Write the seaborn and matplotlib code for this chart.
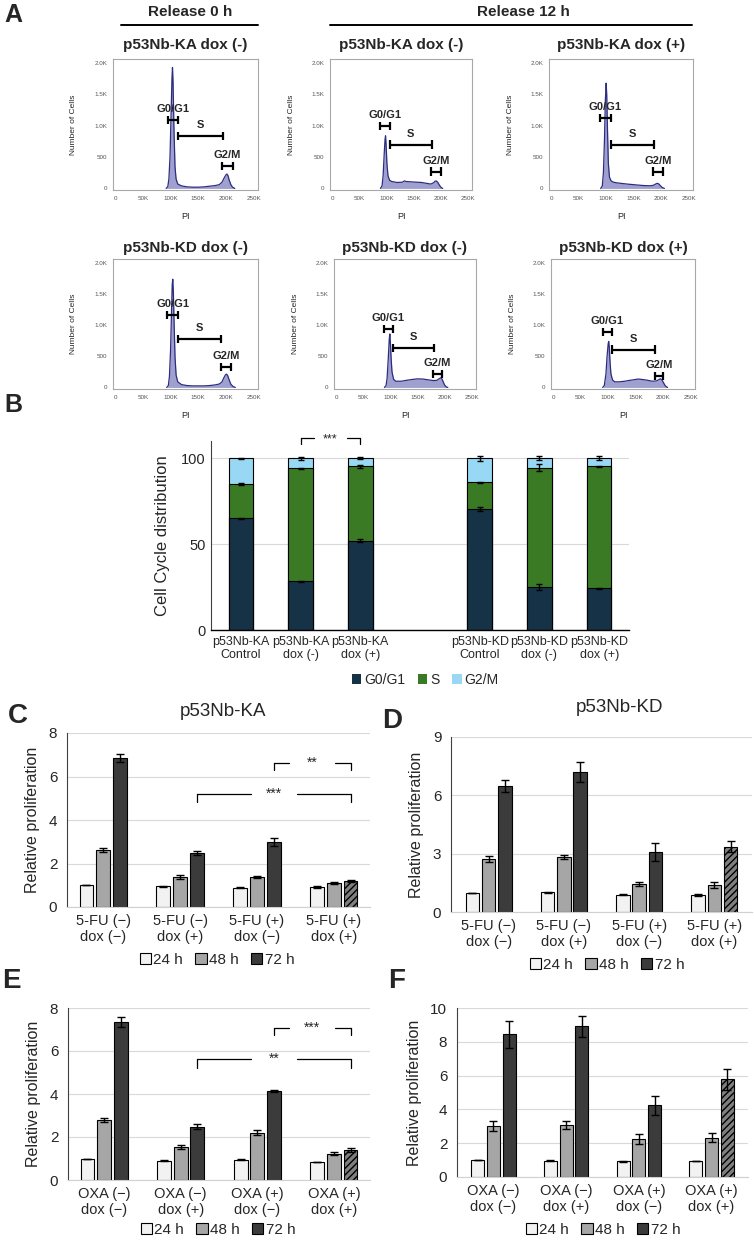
import numpy as np
import pandas as pd
import matplotlib
matplotlib.use('Agg')
import matplotlib.pyplot as plt
from matplotlib.patches import Patch
from matplotlib.lines import Line2D
from matplotlib.ticker import MultipleLocator, FixedLocator
import matplotlib.font_manager as fm
import seaborn as sns

sns.set_style('white')
plt.rcParams['font.family'] = ['Liberation Sans', 'DejaVu Sans']
plt.rcParams['hatch.linewidth'] = 1.0
_names = {f.name for f in fm.fontManager.ttflist}
NARROW = 'Liberation Sans Narrow' if 'Liberation Sans Narrow' in _names else 'Liberation Sans'

W, H = 754, 1240

# ---------------- Panel A data (PI in K, number of cells) ----------------
hist_titles = ['p53Nb-KA dox (-)', 'p53Nb-KA dox (-)', 'p53Nb-KA dox (+)',
               'p53Nb-KD dox (-)', 'p53Nb-KD dox (-)', 'p53Nb-KD dox (+)']
h1_x = [92, 95, 97, 99, 101, 102.5, 103.5, 104.5, 106, 108, 110, 113, 120, 130, 140, 150, 160, 170, 180, 188, 193, 197, 200, 202, 204, 206, 209, 212, 216]
h1_y = [0, 30, 150, 500, 1200, 1750, 1930, 1700, 1000, 350, 150, 70, 40, 25, 20, 20, 25, 35, 45, 60, 100, 170, 215, 230, 200, 130, 60, 20, 0]
h2_x = [89, 92, 94, 96, 97.5, 98.5, 99.5, 101, 103, 106, 110, 120, 130, 133, 137, 145, 155, 165, 175, 182, 187, 190, 192, 195, 198, 201, 204]
h2_y = [0, 40, 200, 550, 780, 840, 700, 400, 200, 130, 110, 95, 100, 120, 110, 105, 100, 95, 80, 70, 90, 115, 120, 95, 50, 15, 0]
h3_x = [90, 93, 95, 97, 98.5, 100, 101, 102.5, 104, 106, 109, 113, 120, 130, 140, 150, 160, 170, 180, 186, 190, 193, 196, 199, 202, 206]
h3_y = [0, 40, 250, 800, 1400, 1680, 1500, 900, 400, 180, 120, 100, 88, 78, 68, 60, 52, 45, 42, 50, 70, 82, 70, 40, 15, 0]
h4_x = [93, 96, 98, 100, 102, 103, 104, 105, 106.5, 108, 110, 113, 120, 130, 140, 150, 160, 170, 180, 188, 193, 196, 199, 201, 203, 206, 209, 213, 217]
h4_y = [0, 30, 180, 600, 1300, 1650, 1740, 1550, 1000, 500, 200, 90, 45, 30, 25, 25, 25, 30, 40, 55, 90, 150, 200, 215, 195, 120, 50, 15, 0]
h5_x = [89, 92, 94, 96, 98, 99, 100, 101.5, 103, 106, 110, 120, 130, 140, 150, 160, 170, 180, 186, 190, 193, 195, 197, 200, 203, 206]
h5_y = [0, 30, 150, 450, 780, 860, 720, 450, 250, 130, 100, 100, 115, 128, 138, 135, 122, 110, 115, 140, 155, 140, 100, 40, 10, 0]
h6_x = [90, 93, 96, 98, 100, 101, 102, 103.5, 105, 108, 112, 120, 130, 140, 150, 155, 160, 170, 180, 188, 192, 195, 198, 201, 204, 208]
h6_y = [0, 30, 220, 500, 700, 740, 650, 400, 220, 120, 90, 90, 100, 115, 128, 135, 130, 118, 100, 105, 125, 140, 120, 70, 25, 0]
hist_x = [h1_x, h2_x, h3_x, h4_x, h5_x, h6_x]
hist_y = [h1_y, h2_y, h3_y, h4_y, h5_y, h6_y]

gate_names = ['G0/G1', 'S', 'G2/M']
gate_lo = [[95, 113, 193], [88, 106, 182], [89, 108, 185], [94, 113, 191], [88, 105, 178], [90, 107, 185]]
gate_hi = [[113, 194, 212], [106, 184, 201], [108, 187, 204], [114, 192, 210], [104, 181, 195], [107, 185, 199]]
gate_y = [[1090, 830, 360], [1000, 700, 270], [1120, 700, 270], [1160, 780, 330], [940, 630, 220], [890, 610, 180]]

pi_ticks = [0, 50, 100, 150, 200, 250]
pi_labels = ['0', '50K', '100K', '150K', '200K', '250K']
cell_ticks = [0, 500, 1000, 1500, 2000]
cell_labels = ['0', '500', '1.0K', '1.5K', '2.0K']

# ---------------- Panel B data ----------------
b_samples = ['p53Nb-KA\nControl', 'p53Nb-KA\ndox (-)', 'p53Nb-KA\ndox (+)',
             'p53Nb-KD\nControl', 'p53Nb-KD\ndox (-)', 'p53Nb-KD\ndox (+)']
b_g0g1 = [65.0, 28.3, 52.0, 70.5, 25.0, 24.3]
b_s = [20.0, 65.7, 43.3, 15.5, 69.5, 70.9]
b_g2m = [15.0, 6.0, 4.7, 14.0, 5.5, 4.8]
b_err_g0g1 = [0.4, 0.4, 1.0, 1.0, 2.0, 0.4]
b_err_s = [0.8, 0.4, 1.0, 0.3, 2.0, 0.5]
b_err_g2m = [0.3, 0.8, 0.4, 1.5, 1.3, 1.0]
b_phases = ['G0/G1', 'S', 'G2/M']

# ---------------- Panels C-F data ----------------
times = ['24 h', '48 h', '72 h']
fu_groups = ['5-FU (\u2212)\ndox (\u2212)', '5-FU (\u2212)\ndox (+)', '5-FU (+)\ndox (\u2212)', '5-FU (+)\ndox (+)']
oxa_groups = ['OXA (\u2212)\ndox (\u2212)', 'OXA (\u2212)\ndox (+)', 'OXA (+)\ndox (\u2212)', 'OXA (+)\ndox (+)']

c_24 = [1.00, 0.95, 0.89, 0.92]; c_24e = [0.0, 0.03, 0.02, 0.03]
c_48 = [2.62, 1.38, 1.38, 1.10]; c_48e = [0.10, 0.10, 0.03, 0.05]
c_72 = [6.85, 2.49, 2.97, 1.20]; c_72e = [0.20, 0.08, 0.18, 0.03]

d_24 = [1.00, 1.02, 0.89, 0.89]; d_24e = [0.0, 0.02, 0.02, 0.05]
d_48 = [2.74, 2.81, 1.44, 1.37]; d_48e = [0.15, 0.10, 0.12, 0.15]
d_72 = [6.47, 7.20, 3.09, 3.35]; d_72e = [0.32, 0.50, 0.48, 0.28]

e_24 = [1.00, 0.90, 0.94, 0.84]; e_24e = [0.0, 0.03, 0.02, 0.02]
e_48 = [2.79, 1.52, 2.20, 1.22]; e_48e = [0.10, 0.10, 0.13, 0.07]
e_72 = [7.35, 2.48, 4.13, 1.40]; e_72e = [0.22, 0.13, 0.04, 0.08]

f_24 = [1.00, 0.97, 0.92, 0.95]; f_24e = [0.0, 0.02, 0.01, 0.01]
f_48 = [3.02, 3.08, 2.23, 2.33]; f_48e = [0.30, 0.22, 0.30, 0.27]
f_72 = [8.44, 8.93, 4.24, 5.78]; f_72e = [0.80, 0.62, 0.58, 0.62]

# ---------------- styling ----------------
HIST_FILL = '#a0a0d0'
HIST_LINE = '#2d2d80'
C_G0 = '#163246'
C_S = '#3a7a24'
C_G2 = '#98d8f4'
T_COLORS = ['#f2f2f2', '#a6a6a6', '#3b3b3b']
HATCH_FACE = '#7f7f7f'

fig = plt.figure(figsize=(W / 100, H / 100), dpi=100)


def rect(l, t, r, b):
    return [l / W, 1 - b / H, (r - l) / W, (b - t) / H]


def fx(x):
    return x / W


def fy(y):
    return 1 - y / H


# ================= Panel A =================
fig.text(fx(4), fy(3), 'A', fontsize=18, fontweight='bold', va='top', ha='left')
fig.text(fx(190), fy(12), 'Release 0 h', fontsize=11, fontweight='bold', ha='center', va='center')
fig.add_artist(Line2D([fx(121), fx(258)], [fy(25), fy(25)], color='black', lw=1.4, transform=fig.transFigure))
fig.text(fx(523), fy(12), 'Release 12 h', fontsize=11, fontweight='bold', ha='center', va='center')
fig.add_artist(Line2D([fx(330), fx(692)], [fy(25), fy(25)], color='black', lw=1.4, transform=fig.transFigure))

hist_rects = [(113, 59, 258, 190), (330, 59, 472, 190), (549, 59, 693, 190),
              (113, 259, 258, 389), (334, 259, 476, 389), (551, 259, 695, 389)]
for i in range(6):
    ax = fig.add_axes(rect(*hist_rects[i]))
    hx, hy = hist_x[i], hist_y[i]
    ax.fill_between(hx, hy, 0, color=HIST_FILL, lw=0)
    sns.lineplot(x=hx, y=hy, ax=ax, color=HIST_LINE, lw=0.9)
    ax.set_xlim(-4, 258)
    ax.set_ylim(-25, 2065)
    ax.xaxis.set_major_locator(FixedLocator(pi_ticks))
    ax.set_xticklabels(pi_labels)
    ax.xaxis.set_minor_locator(MultipleLocator(10))
    ax.yaxis.set_major_locator(FixedLocator(cell_ticks))
    ax.set_yticklabels(cell_labels)
    ax.yaxis.set_minor_locator(MultipleLocator(100))
    ax.tick_params(which='major', length=2.5, width=0.6, color='#808080',
                   labelsize=4.5, labelcolor='#555555', pad=1.5)
    ax.tick_params(which='minor', length=1.5, width=0.5, color='#808080')
    for sp in ax.spines.values():
        sp.set_visible(True)
        sp.set_color('#a8a8a8')
        sp.set_linewidth(0.8)
    ax.set_ylabel('Number of Cells', fontsize=6)
    ax.yaxis.set_label_coords(-0.245, 0.5)
    ax.set_xlabel('PI', fontsize=6.5)
    ax.xaxis.set_label_coords(0.5, -0.17)
    ax.text(0.5, 1.105 if i < 3 else 1.085, hist_titles[i], transform=ax.transAxes,
            fontsize=11, fontweight='bold', ha='center', va='center')
    for g in range(3):
        lo, hi, gy = gate_lo[i][g], gate_hi[i][g], gate_y[i][g]
        ax.plot([lo, hi], [gy, gy], color='black', lw=1.6, solid_capstyle='butt')
        ax.plot([lo, lo], [gy - 65, gy + 65], color='black', lw=1.6, solid_capstyle='butt')
        ax.plot([hi, hi], [gy - 65, gy + 65], color='black', lw=1.6, solid_capstyle='butt')
        ax.text((lo + hi) / 2, gy + 95, gate_names[g], fontsize=8, fontweight='bold',
                ha='center', va='bottom')

# ================= Panel B =================
fig.text(fx(4), fy(393), 'B', fontsize=18, fontweight='bold', va='top', ha='left')
axb = fig.add_axes(rect(211, 441, 629, 630))
order = b_samples[:3] + [' '] + b_samples[3:]
cum_s = [a + b for a, b in zip(b_g0g1, b_s)]
cum_t = [a + b + c for a, b, c in zip(b_g0g1, b_s, b_g2m)]
for vals, col in [(cum_t, C_G2), (cum_s, C_S), (b_g0g1, C_G0)]:
    sns.barplot(x=b_samples, y=vals, order=order, color=col, saturation=1, width=0.41,
                edgecolor='black', linewidth=0.8, errorbar=None, ax=axb)
for cont, vals, errs in zip(axb.containers, [cum_t, cum_s, b_g0g1], [b_err_g2m, b_err_s, b_err_g0g1]):
    xs = [p.get_x() + p.get_width() / 2 for p in cont.patches]
    axb.errorbar(xs, vals, yerr=errs, fmt='none', ecolor='black', elinewidth=1.0,
                 capsize=2, capthick=1.0, zorder=5)
axb.set_ylim(0, 110)
axb.set_xlim(-0.5, 6.5)
axb.set_yticks([0, 50, 100])
axb.yaxis.grid(True, color='#d9d9d9', lw=0.8)
axb.set_axisbelow(True)
for s in ['top', 'right']:
    axb.spines[s].set_visible(False)
axb.spines['left'].set_color('#404040')
axb.spines['left'].set_linewidth(0.8)
axb.spines['bottom'].set_color('black')
axb.spines['bottom'].set_linewidth(1.0)
axb.tick_params(axis='y', length=0, labelsize=10.5, pad=4)
axb.tick_params(axis='x', which='major', length=0, pad=4)
axb.set_xticks([0.5, 1.5, 2.5, 3.5, 4.5, 5.5], minor=True)
axb.tick_params(axis='x', which='minor', length=4, width=0.8, color='black', direction='out')
for lab in axb.get_xticklabels():
    lab.set_fontsize(9)
    lab.set_fontfamily(NARROW)
for lab in axb.get_yticklabels():
    lab.set_fontfamily(NARROW)
axb.set_xlabel('')
axb.set_ylabel('Cell Cycle distribution', fontsize=12, labelpad=8)
# significance bracket
bx = [p.get_x() + p.get_width() / 2 for p in axb.containers[0].patches]
x1, x2 = bx[1], bx[2]
xm = (x1 + x2) / 2
for seg in ([x1, xm - 0.27], [xm + 0.27, x2]):
    axb.plot(seg, [111.5, 111.5], color='black', lw=0.9, clip_on=False)
axb.plot([x1, x1], [111.5, 108], color='black', lw=0.9, clip_on=False)
axb.plot([x2, x2], [111.5, 108], color='black', lw=0.9, clip_on=False)
axb.text(xm, 110.8, '***', ha='center', va='center', fontsize=9, clip_on=False)
fig.legend(handles=[Patch(facecolor=c, edgecolor='none', label=l) for c, l in zip([C_G0, C_S, C_G2], b_phases)],
           loc='center', bbox_to_anchor=(fx(425), fy(680)), ncol=3, frameon=False,
           handlelength=0.7, handleheight=0.7, handletextpad=0.2, columnspacing=0.9,
           prop={'family': NARROW, 'size': 10})


# ================= Panels C-F =================
def prolif(axr, groups, vals, errs, ylim, yticks, xlim, legend_xy, title=None, title_xy=None, brackets=()):
    ax = fig.add_axes(rect(*axr))
    df = pd.DataFrame({'group': groups * 3,
                       'time': [t for t in times for _ in groups],
                       'value': vals[0] + vals[1] + vals[2]})
    sns.barplot(data=df, x='group', y='value', hue='time', order=groups, hue_order=times,
                palette=T_COLORS, saturation=1, width=0.65, gap=0.17, edgecolor='black',
                linewidth=0.8, errorbar=None, legend=False, ax=ax)
    centers = []
    for cont, v, e in zip(ax.containers, vals, errs):
        xs = [p.get_x() + p.get_width() / 2 for p in cont.patches]
        centers.append(xs)
        ax.errorbar(xs, v, yerr=e, fmt='none', ecolor='black', elinewidth=1.0,
                    capsize=3, capthick=1.0, zorder=5)
    last = ax.containers[2].patches[-1]
    last.set_facecolor(HATCH_FACE)
    last.set_hatch('/////')
    ax.set_ylim(*ylim)
    ax.set_xlim(*xlim)
    ax.set_yticks(yticks)
    ax.yaxis.grid(True, color='#d9d9d9', lw=0.8)
    ax.set_axisbelow(True)
    for s in ['top', 'right']:
        ax.spines[s].set_visible(False)
    ax.spines['left'].set_color('#404040')
    ax.spines['left'].set_linewidth(0.8)
    ax.spines['bottom'].set_color('#d0d0d0')
    ax.spines['bottom'].set_linewidth(0.8)
    ax.tick_params(axis='y', length=4, width=0.8, color='#404040', labelsize=11, pad=3)
    ax.tick_params(axis='x', length=0, labelsize=10.5, pad=5)
    ax.set_xlabel('')
    ax.set_ylabel('Relative proliferation', fontsize=11.5, labelpad=6)
    if title:
        fig.text(fx(title_xy[0]), fy(title_xy[1]), title, fontsize=13.5, ha='center', va='center')
    for (ga, gb, yl, yd, txt) in brackets:
        x1, x2 = centers[2][ga], centers[2][gb]
        xm = (x1 + x2) / 2
        for seg in ([x1, xm - 0.3], [xm + 0.3, x2]):
            ax.plot(seg, [yl, yl], color='black', lw=0.9)
        ax.plot([x1, x1], [yl, yd], color='black', lw=0.9)
        ax.plot([x2, x2], [yl, yd], color='black', lw=0.9)
        ax.text(xm, yl, txt, ha='center', va='center', fontsize=10)
    fig.legend(handles=[Patch(facecolor=c, edgecolor='black', lw=0.8, label=t) for c, t in zip(T_COLORS, times)],
               loc='center', bbox_to_anchor=(fx(legend_xy[0]), fy(legend_xy[1])), ncol=3, frameon=False,
               fontsize=11, handlelength=0.75, handleheight=0.75, handletextpad=0.15, columnspacing=0.8)
    return ax


fig.text(fx(8), fy(703), 'C', fontsize=20, fontweight='bold', va='top', ha='left')
prolif((67, 733, 370, 907), fu_groups, [c_24, c_48, c_72], [c_24e, c_48e, c_72e],
       (0, 8), [0, 2, 4, 6, 8], (-0.47, 3.47), (217, 960), 'p53Nb-KA', (223, 712),
       brackets=[(2, 3, 6.62, 6.31, '**'), (1, 3, 5.2, 4.85, '***')])

fig.text(fx(382), fy(708), 'D', fontsize=20, fontweight='bold', va='top', ha='left')
prolif((451, 737, 752, 912), fu_groups, [d_24, d_48, d_72], [d_24e, d_48e, d_72e],
       (0, 9), [0, 3, 6, 9], (-0.5, 3.5), (607, 965), 'p53Nb-KD', (620, 707))

fig.text(fx(2), fy(968), 'E', fontsize=20, fontweight='bold', va='top', ha='left')
prolif((68, 1008, 370, 1180), oxa_groups, [e_24, e_48, e_72], [e_24e, e_48e, e_72e],
       (0, 8), [0, 2, 4, 6, 8], (-0.47, 3.47), (218, 1230),
       brackets=[(2, 3, 7.07, 6.73, '***'), (1, 3, 5.62, 5.23, '**')])

fig.text(fx(388), fy(968), 'F', fontsize=20, fontweight='bold', va='top', ha='left')
prolif((457, 1008, 748, 1177), oxa_groups, [f_24, f_48, f_72], [f_24e, f_48e, f_72e],
       (0, 10), [0, 2, 4, 6, 8, 10], (-0.5, 3.5), (603, 1230))

fig.savefig('out.png', dpi=100)
